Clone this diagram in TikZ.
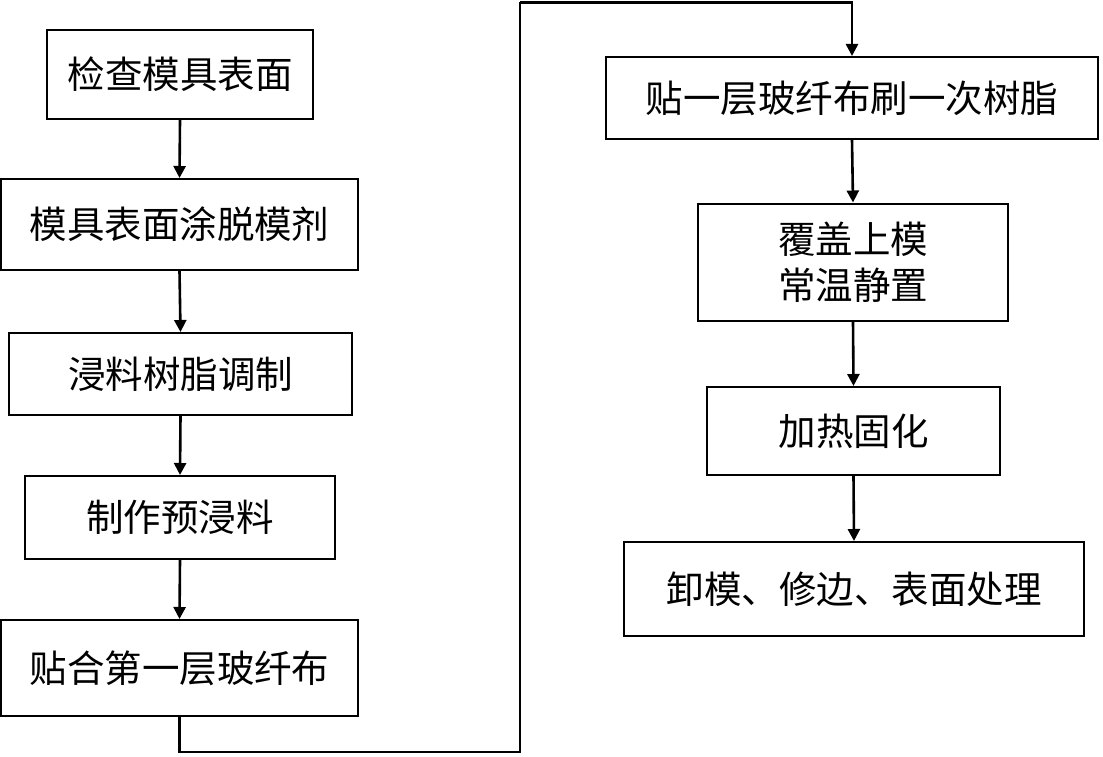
\documentclass[tikz,border=0pt]{standalone}
\usepackage{fontspec}
\setmainfont{Noto Sans CJK SC}
\usetikzlibrary{arrows.meta}
\tikzset{
 stepbox/.style={draw,line width=2pt,fill=white,inner sep=0,align=center,font=\fontsize{37.5}{46}\selectfont},
 flow/.style={line width=2.6pt,-{Triangle[length=12pt,width=12pt]}},
 flowline/.style={line width=2.6pt}
}
\begin{document}
\begin{tikzpicture}[x=1pt,y=-1pt]
\path[use as bounding box,fill=white] (0,0) rectangle (1103,757);
\node[stepbox,minimum width=266pt,minimum height=89pt] (a) at (180,74.5) {检查模具表面};
\node[stepbox,minimum width=357pt,minimum height=91pt] (b) at (179.5,224.5) {模具表面涂脱模剂};
\node[stepbox,minimum width=343pt,minimum height=82pt] (c) at (180.5,374) {浸料树脂调制};
\node[stepbox,minimum width=310pt,minimum height=83pt] (d) at (180,517.5) {制作预浸料};
\node[stepbox,minimum width=357pt,minimum height=96pt] (e) at (179.5,668) {贴合第一层玻纤布};
\node[stepbox,minimum width=492pt,minimum height=82pt] (f) at (852,98) {贴一层玻纤布刷一次树脂};
\node[stepbox,minimum width=310pt,minimum height=117pt] (g) at (853,262) {覆盖上模\\常温静置};
\node[stepbox,minimum width=293pt,minimum height=88pt] (h) at (853.5,431) {加热固化};
\node[stepbox,minimum width=460pt,minimum height=94pt] (i) at (854,589) {卸模、修边、表面处理};
\coordinate (bl) at (520,752);
\coordinate (tl) at (520,2.5);
\draw[flow] (a.south) -- (b.north);
\draw[flow] (b.south) -- (c.north);
\draw[flow] (c.south) -- (d.north);
\draw[flow] (d.south) -- (e.north);
\draw[flowline] (e.south) |- (bl) -- (tl);
\draw[flow] (tl) -| (f.north);
\draw[flow] (f.south) -- (g.north);
\draw[flow] (g.south) -- (h.north);
\draw[flow] (h.south) -- (i.north);
\end{tikzpicture}
\end{document}
